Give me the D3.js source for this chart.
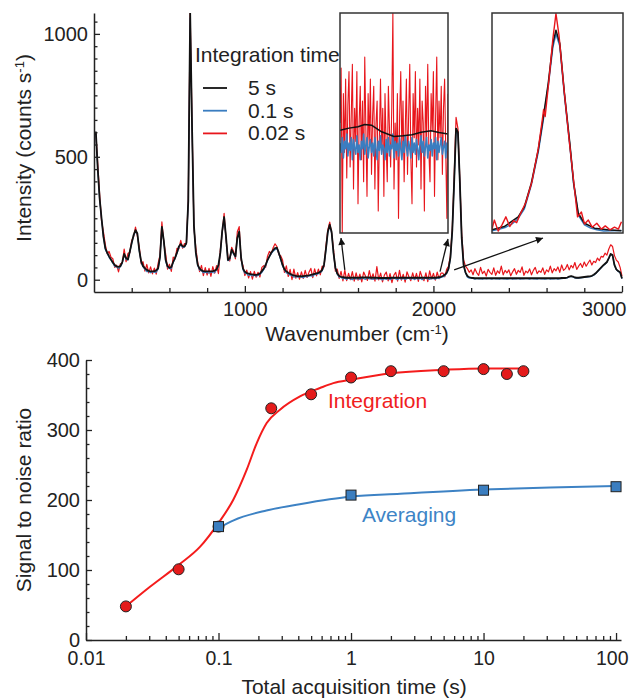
<!DOCTYPE html>
<html>
<head>
<meta charset="utf-8">
<script src="https://cdn.jsdelivr.net/npm/d3@7"></script>
<style>
  body { margin: 0; background: #fff; }
  text { font-family: Arial, "Liberation Sans", sans-serif; fill: #222; }
</style>
</head>
<body>
<svg id="fig" width="630" height="698"></svg>
<script>
/*global d3*/

// ---- spectra, sampled every 10 cm-1 from 200 to 3000 ----
var wavenumbers = d3.range(200, 3001, 10);

var spec5s = [
  590, 600, 450, 330, 250, 175, 128, 110, 95, 82,
  70, 60, 54, 52, 55, 72, 105, 88, 82, 115,
  150, 182, 202, 188, 120, 75, 55, 47, 40, 36,
  34, 34, 35, 38, 46, 92, 215, 160, 80, 55,
  48, 52, 72, 90, 110, 135, 145, 136, 135, 150,
  320, 1085, 620, 220, 110, 60, 45, 38, 35, 34,
  34, 34, 34, 35, 37, 42, 60, 110, 200, 255,
  175, 80, 88, 122, 108, 95, 170, 196, 90, 45,
  32, 27, 25, 23, 22, 20, 20, 22, 25, 35,
  45, 60, 80, 95, 110, 120, 128, 130, 110, 85,
  60, 42, 34, 28, 24, 20, 18, 16, 15, 14,
  14, 15, 16, 17, 18, 20, 22, 24, 26, 28,
  32, 40, 62, 125, 195, 224, 195, 110, 50, 25,
  15, 12, 10, 9, 8, 8, 8, 8, 8, 8,
  8, 8, 9, 9, 9, 9, 9, 8, 8, 8,
  8, 7, 7, 7, 7, 7, 7, 7, 8, 8,
  8, 8, 8, 8, 8, 8, 8, 8, 8, 8,
  8, 8, 8, 8, 8, 8, 8, 8, 8, 8,
  8, 8, 9, 10, 12, 15, 20, 28, 45, 90,
  200, 400, 615, 600, 400, 170, 60, 30, 15, 10,
  8, 7, 6, 6, 6, 6, 6, 6, 6, 6,
  6, 6, 6, 6, 6, 6, 6, 6, 6, 6,
  6, 6, 6, 6, 6, 6, 6, 6, 6, 6,
  6, 6, 6, 6, 6, 6, 6, 6, 6, 6,
  6, 6, 6, 6, 6, 6, 6, 6, 7, 7,
  7, 9, 13, 15, 13, 9, 8, 8, 9, 10,
  11, 12, 13, 14, 16, 20, 26, 34, 42, 50,
  58, 65, 72, 88, 105, 100, 60, 42, 35, 30,
  5
];

var spec01s = [
  585, 592, 447, 324, 246, 173, 122, 107, 90, 80,
  66, 54, 52, 45, 52, 67, 101, 82, 80, 112,
  147, 177, 196, 186, 116, 69, 52, 42, 33, 34,
  28, 32, 30, 30, 43, 88, 210, 157, 74, 51,
  45, 45, 70, 85, 106, 129, 142, 131, 133, 146,
  310, 1065, 610, 215, 106, 57, 39, 36, 28, 30,
  29, 26, 31, 29, 28, 40, 55, 106, 194, 250,
  171, 77, 82, 120, 103, 92, 166, 190, 87, 40,
  26, 24, 17, 19, 15, 18, 14, 17, 22, 29,
  41, 54, 77, 93, 105, 116, 122, 127, 105, 81,
  55, 39, 27, 24, 18, 17, 10, 12, 10, 12,
  10, 8, 13, 11, 16, 15, 14, 21, 21, 24,
  29, 35, 58, 119, 190, 220, 189, 107, 45, 21,
  10, 10, 4, 6, 1, 7, 3, 0, 6, 2,
  5, 1, 7, 4, 1, 8, 3, 4, 1, 5,
  2, 5, 2, -1, 4, 1, 6, 0, 4, 6,
  3, 0, 6, 2, 5, 1, 4, 7, 2, 5,
  1, 5, 2, 6, 0, 4, 7, 3, 1, 5,
  4, 2, 7, 5, 9, 11, 15, 25, 41, 84,
  194, 392, 600, 592, 394, 165, 56, 27, 10, 6,
  5, 5, 2, 5, 3, 4, 2, 5, 3, 4,
  4, 2, 5, 3, 4, 2, 5, 3, 4, 2,
  3, 5, 2, 4, 3, 5, 2, 4, 3, 5,
  4, 2, 5, 3, 4, 2, 5, 3, 4, 2,
  3, 5, 2, 4, 3, 5, 2, 4, 4, 5,
  5, 7, 11, 13, 11, 7, 6, 6, 7, 8,
  9, 10, 11, 12, 14, 18, 24, 32, 40, 48,
  56, 63, 70, 86, 102, 97, 58, 40, 33, 28,
  4
];

var spec002s = [
  600, 595, 470, 345, 240, 195, 143, 105, 115, 92,
  85, 50, 59, 32, 65, 67, 125, 73, 107, 110,
  160, 174, 214, 178, 135, 65, 73, 35, 62, 28,
  52, 24, 47, 23, 66, 100, 235, 155, 105, 43,
  63, 34, 92, 85, 128, 125, 160, 128, 147, 145,
  330, 1085, 635, 210, 130, 70, 33, 58, 17, 49,
  19, 46, 14, 53, 27, 57, 25, 122, 190, 270,
  165, 95, 76, 132, 116, 85, 195, 216, 80, 57,
  17, 39, 7, 33, 2, 34, 10, 30, 11, 50,
  57, 50, 95, 115, 105, 130, 146, 135, 102, 97,
  80, 30, 56, 13, 42, 0, 43, 6, 29, 2,
  32, 5, 38, 9, 30, 46, 8, 44, 16, 43,
  20, 55, 52, 137, 203, 234, 190, 125, 35, 43,
  5, 34, -5, 39, -4, 26, 0, 33, -6, 28,
  -2, 23, -9, 31, 14, -3, 37, 2, 24, -6,
  53, -1, 27, -9, 19, 31, -5, 25, -12, 18,
  30, -6, 38, -2, 22, -10, 32, 12, -4, 28,
  0, 26, -7, 34, 10, -4, 28, -8, 36, 3,
  26, -2, 31, 4, 27, 27, 12, 42, 55, 98,
  210, 420, 660, 615, 410, 185, 80, 55, 45, 30,
  40, 20, 45, 28, 18, 50, 25, 35, 15, 42,
  30, 22, 48, 18, 36, 26, 55, 20, 38, 28,
  40, 16, 32, 45, 22, 38, 30, 52, 18, 35,
  28, 44, 20, 38, 50, 25, 36, 30, 48, 22,
  40, 32, 55, 28, 45, 36, 52, 30, 60, 38,
  45, 62, 40, 58, 48, 70, 42, 55, 66, 50,
  72, 55, 68, 80, 60, 75, 70, 88, 78, 95,
  92, 108, 100, 125, 142, 135, 98, 80, 72, 50,
  15
];

// ---- inset 1: baseline 1560-2040 cm-1, every 5 cm-1 ----
var inset1Wn = d3.range(1560, 2041, 5);
var inset1Red = [
  10, 25, -20, 18, 2, 22, -5, 15, 24, -2,
  12, 26, -8, 14, 5, 24, -12, 10, 20, 0,
  16, -6, 28, 8, -10, 18, 4, 22, -4, 12,
  20, -8, 10, 16, -14, 6, 22, 2, 14, -10,
  18, 4, -6, 20, 8, -2, 14, 40, -8, 10,
  0, 18, -16, 12, 24, 2, 16, -6, 8, 22,
  -4, 12, 26, 0, -12, 18, 6, 24, -2, 14,
  4, 22, -8, 16, 10, -14, 20, 6, 26, 2,
  -6, 18, 8, 24, -10, 12, 28, 0, 16, 6,
  20, -4, 14, 22, 2, -16, 18
];
var inset1Blue = [
  4.5, 2, 6, 0.5, 5, 3, 7, 1, 4.5, 2.5,
  6, 0, 5.5, 3, 1.5, 6.5, 2, 4, 0, 5,
  3, 7, 1.5, 4, 6, 0.5, 3.5, 5.5, 2, 4.5,
  1, 6, 3, 0, 5, 2.5, 6.5, 1.5, 4, 3,
  0, 5.5, 2, 6, 1, 4, 3, 7, 0.5, 5,
  2.5, 4.5, 1, 6, 3, 0, 5, 2, 6.5, 3.5,
  1, 5, 3, 0.5, 6, 2, 4.5, 1.5, 5.5, 3,
  0, 4, 6.5, 2, 5, 1, 3.5, 6, 0.5, 4,
  2.5, 5.5, 1, 4.5, 3, 6, 0, 5, 2, 4,
  6, 1.5, 3.5, 5, 0.5, 4.5, 2.5
];
var inset1BlackWn = [1560, 1600, 1640, 1670, 1700, 1745, 1800, 1840, 1880, 1920, 1965, 2000, 2040];
var inset1Black = [8.0, 8.6, 9.0, 9.6, 9.4, 7.6, 6.3, 6.5, 6.8, 7.5, 7.9, 7.4, 7.0];

// ---- inset 2: the 2125 cm-1 band ----
var inset2BlackWn = [2040, 2056, 2074, 2082, 2091, 2100, 2106, 2113, 2119, 2123, 2128, 2134, 2141, 2146, 2152, 2160, 2173, 2190, 2208];
var inset2Black = [0, 10, 40, 71, 144, 247, 339, 453, 576, 617, 576, 422, 267, 144, 51, 20, 5, 0, -3];
var inset2BlueWn = [2040, 2050, 2058, 2066, 2074, 2082, 2091, 2100, 2106, 2113, 2119, 2123, 2128, 2134, 2141, 2146, 2152, 2160, 2168, 2176, 2185, 2195, 2208];
var inset2Blue = [-3, 2, 8, 18, 35, 65, 138, 240, 330, 445, 565, 605, 568, 415, 260, 140, 45, 15, 5, 0, -4, -3, -2];
var inset2RedWn = [2040, 2043, 2048, 2053, 2058, 2063, 2068, 2072, 2077, 2084, 2092, 2100, 2105, 2107, 2109, 2114, 2119, 2123, 2127, 2133, 2140, 2146, 2151, 2156, 2160, 2165, 2170, 2176, 2182, 2187, 2193, 2199, 2204, 2208];
var inset2Red = [2, 30, -4, 15, 40, 10, 28, 22, 50, 85, 150, 250, 335, 372, 350, 465, 590, 668, 600, 445, 280, 150, 40, 55, 18, 30, 8, 20, 2, 12, 0, 8, 2, 25];

var legendLabels = ["5 s", "0.1 s", "0.02 s"];
var specColors = ["#111111", "#3a7dc0", "#e8161c"];

// ---- signal to noise vs acquisition time ----
var intTime = [0.02, 0.05, 0.1, 0.25, 0.5, 1, 2, 5, 10, 15, 20];
var intSNR = [48, 101, 162, 331, 351, 375, 384, 384, 387, 380, 384];
var avgTime = [0.1, 1, 10, 100];
var avgSNR = [162, 207, 214, 219];
var intFitTime = [0.02, 0.0304, 0.0498, 0.0724, 0.0998, 0.129, 0.163, 0.194, 0.231, 0.291, 0.412, 0.583, 0.735, 1.01, 2.0, 4.98, 9.98, 21.2];
var intFitSNR = [48, 76, 107, 133, 167, 200, 243, 281, 310, 329, 348, 360, 367, 372, 381, 386, 388, 388];
var avgFitTime = [0.1, 0.13, 0.23, 0.41, 0.69, 1, 2.35, 10, 31.8, 100];
var avgFitSNR = [160, 171, 185, 194, 201, 205, 209, 215, 218, 220];

var timeTicks = [0.01, 0.1, 1, 10, 100];
var timeTickLabels = ["0.01", "0.1", "1", "10", "100"];

var svg = d3.select("#fig");
var axisColor = "#222";

svg.append("defs").append("marker")
  .attr("id", "head")
  .attr("viewBox", "0 0 10 10")
  .attr("refX", 10).attr("refY", 5)
  .attr("markerWidth", 9).attr("markerHeight", 7)
  .attr("markerUnits", "userSpaceOnUse")
  .attr("orient", "auto")
  .append("path").attr("d", "M0,0L10,5L0,10z").attr("fill", "#111");

function clip(id, x0, y0, x1, y1) {
  svg.select("defs").append("clipPath").attr("id", id)
    .append("rect").attr("x", x0).attr("y", y0).attr("width", x1 - x0).attr("height", y1 - y0);
  return "url(#" + id + ")";
}

function styleAxis(g, size) {
  g.select(".domain").attr("stroke", axisColor).attr("stroke-width", 1.5);
  g.selectAll(".tick line").attr("stroke", axisColor).attr("stroke-width", 1.3);
  g.selectAll(".tick text").style("font-size", (size || 20) + "px").attr("fill", "#222");
}

// ================= top panel =================
var pTop = {l: 94, r: 622, t: 13, b: 292};
var x1 = d3.scaleLinear().domain([200, 3000]).range([pTop.l, pTop.r]);
var y1 = d3.scaleLinear().domain([-50, 1085]).range([pTop.b, pTop.t]);

// legend
var leg = svg.append("g");
leg.append("text").attr("x", 195).attr("y", 61.5).style("font-size", "21px").text("Integration time");
legendLabels.forEach(function (lab, i) {
  var yy = 88 + i * 22.7;
  leg.append("line").attr("x1", 203).attr("x2", 227).attr("y1", yy).attr("y2", yy)
    .attr("stroke", specColors[i]).attr("stroke-width", 1.8);
  leg.append("text").attr("x", 248).attr("y", yy + 7).style("font-size", "21px").text(lab);
});

var specLine = d3.line()
  .x(function (d, i) { return x1(wavenumbers[i]); })
  .y(function (d) { return y1(d); });

var mainG = svg.append("g").attr("clip-path", clip("cMain", pTop.l, pTop.t, pTop.r + 2, pTop.b));
[[spec002s, 2, 1.2], [spec01s, 1, 1.1], [spec5s, 0, 1.8]].forEach(function (s) {
  mainG.append("path").attr("d", specLine(s[0])).attr("fill", "none")
    .attr("stroke", specColors[s[1]]).attr("stroke-width", s[2]).attr("stroke-linejoin", "round");
});

// axes
var gx1 = svg.append("g").attr("transform", "translate(0," + pTop.b + ")")
  .call(d3.axisBottom(x1).tickValues([1000, 2000, 3000]).tickFormat(d3.format("d"))
    .tickSizeInner(-6).tickSizeOuter(0).tickPadding(10));
styleAxis(gx1);
// last label sits flush with the right edge, as in the original figure
gx1.selectAll(".tick text").filter(function (d) { return d === 3000; })
  .attr("text-anchor", "end").attr("dx", 4);
svg.append("g").attr("transform", "translate(0," + pTop.b + ")")
  .call(d3.axisBottom(x1).tickValues(d3.range(400, 3000, 200).filter(function (v) { return v % 1000 !== 0; }))
    .tickFormat("").tickSizeInner(-4).tickSizeOuter(0))
  .call(function (g) { g.select(".domain").remove(); styleAxis(g); });

var gy1 = svg.append("g").attr("transform", "translate(" + pTop.l + ",0)")
  .call(d3.axisLeft(y1).tickValues([0, 500, 1000]).tickFormat(d3.format("d"))
    .tickSizeInner(-6).tickSizeOuter(0).tickPadding(6));
styleAxis(gy1);
svg.append("g").attr("transform", "translate(" + pTop.l + ",0)")
  .call(d3.axisLeft(y1).tickValues(d3.range(50, 1051, 50).filter(function (v) { return v % 500 !== 0; }))
    .tickFormat("").tickSizeInner(-3.5).tickSizeOuter(0))
  .call(function (g) { g.select(".domain").remove(); styleAxis(g); });

var yl1 = svg.append("text").attr("transform", "translate(31,148) rotate(-90)")
  .attr("text-anchor", "middle").style("font-size", "21px");
yl1.append("tspan").text("Intensity (counts s");
yl1.append("tspan").attr("baseline-shift", "super").style("font-size", "13px").text("-1");
yl1.append("tspan").text(")");

var xl1 = svg.append("text").attr("x", 357).attr("y", 341)
  .attr("text-anchor", "middle").style("font-size", "21px");
xl1.append("tspan").text("Wavenumber (cm");
xl1.append("tspan").attr("baseline-shift", "super").style("font-size", "13px").text("-1");
xl1.append("tspan").text(")");

// insets
function inset(id, box, xd, yd, series) {
  var sx = d3.scaleLinear().domain(xd).range([box.x0, box.x1]);
  var sy = d3.scaleLinear().domain(yd).range([box.y1, box.y0]);
  svg.append("rect").attr("x", box.x0).attr("y", box.y0)
    .attr("width", box.x1 - box.x0).attr("height", box.y1 - box.y0).attr("fill", "#fff");
  var g = svg.append("g").attr("clip-path", clip(id, box.x0, box.y0, box.x1, box.y1));
  series.forEach(function (s) {
    var ln = d3.line().x(function (d, i) { return sx(s.wn[i]); }).y(function (d) { return sy(d); });
    g.append("path").attr("d", ln(s.v)).attr("fill", "none")
      .attr("stroke", s.c).attr("stroke-width", s.w).attr("stroke-linejoin", "round");
  });
  svg.append("rect").attr("x", box.x0).attr("y", box.y0)
    .attr("width", box.x1 - box.x0).attr("height", box.y1 - box.y0)
    .attr("fill", "none").attr("stroke", "#333").attr("stroke-width", 1.5);
}

var box1 = {x0: 340, x1: 448, y0: 13, y1: 233};
var box2 = {x0: 492, x1: 623, y0: 13, y1: 233};
inset("cIn1", box1, [1560, 2040], [-20, 40], [
  {wn: inset1Wn, v: inset1Red, c: specColors[2], w: 1.1},
  {wn: inset1Wn, v: inset1Blue, c: specColors[1], w: 1.6},
  {wn: inset1BlackWn, v: inset1Black, c: specColors[0], w: 1.5}
]);
inset("cIn2", box2, [2040, 2210], [-10, 670], [
  {wn: inset2BlueWn, v: inset2Blue, c: specColors[1], w: 1.5},
  {wn: inset2BlackWn, v: inset2Black, c: specColors[0], w: 1.5},
  {wn: inset2RedWn, v: inset2Red, c: specColors[2], w: 1.4}
]);

// arrows from the spectrum to the insets
var arrowTails = [[1530, 40], [2035, 33], [2110, 40]];
var arrowHeads = [[box1.x0 + 1, box1.y1 + 5], [box1.x1, box1.y1 + 6], [box2.x0 + 51, box2.y1 + 5]];
arrowTails.forEach(function (t, i) {
  svg.append("line")
    .attr("x1", x1(t[0])).attr("y1", y1(t[1]))
    .attr("x2", arrowHeads[i][0]).attr("y2", arrowHeads[i][1])
    .attr("stroke", "#111").attr("stroke-width", 1.3).attr("marker-end", "url(#head)");
});

// ================= bottom panel =================
var pBot = {l: 86, r: 621, t: 360, b: 640};
var x2 = d3.scaleLog().domain([0.01, 109]).range([pBot.l, pBot.r]);
var y2 = d3.scaleLinear().domain([0, 400]).range([pBot.b, pBot.t]);

var minorTimes = [];
[0.01, 0.1, 1, 10].forEach(function (d) {
  d3.range(2, 10).forEach(function (k) { minorTimes.push(d * k); });
});

var gx2 = svg.append("g").attr("transform", "translate(0," + pBot.b + ")")
  .call(d3.axisBottom(x2).tickValues(timeTicks)
    .tickFormat(function (d, i) { return timeTickLabels[i]; })
    .tickSizeInner(-7).tickSizeOuter(0).tickPadding(11));
styleAxis(gx2, 19.5);
gx2.selectAll(".tick text").filter(function (d) { return d === 100; })
  .attr("text-anchor", "end").attr("dx", 12);
svg.append("g").attr("transform", "translate(0," + pBot.b + ")")
  .call(d3.axisBottom(x2).tickValues(minorTimes).tickFormat("").tickSizeInner(-4).tickSizeOuter(0))
  .call(function (g) { g.select(".domain").remove(); styleAxis(g); });

var gy2 = svg.append("g").attr("transform", "translate(" + pBot.l + ",0)")
  .call(d3.axisLeft(y2).tickValues([0, 100, 200, 300, 400]).tickFormat(d3.format("d"))
    .tickSizeInner(-6).tickSizeOuter(0).tickPadding(6));
styleAxis(gy2);
svg.append("g").attr("transform", "translate(" + pBot.l + ",0)")
  .call(d3.axisLeft(y2).tickValues(d3.range(20, 400, 20).filter(function (v) { return v % 100 !== 0; }))
    .tickFormat("").tickSizeInner(-3.5).tickSizeOuter(0))
  .call(function (g) { g.select(".domain").remove(); styleAxis(g); });

svg.append("text").attr("transform", "translate(31,500) rotate(-90)")
  .attr("text-anchor", "middle").style("font-size", "21px").text("Signal to noise ratio");
svg.append("text").attr("x", 354).attr("y", 694)
  .attr("text-anchor", "middle").style("font-size", "21px").text("Total acquisition time (s)");

var fitLine = d3.line().curve(d3.curveMonotoneX);
svg.append("path")
  .attr("d", fitLine(avgFitTime.map(function (t, i) { return [x2(t), y2(avgFitSNR[i])]; })))
  .attr("fill", "none").attr("stroke", "#3d82c4").attr("stroke-width", 2);
svg.append("path")
  .attr("d", fitLine(intFitTime.map(function (t, i) { return [x2(t), y2(intFitSNR[i])]; })))
  .attr("fill", "none").attr("stroke", "#f41c1c").attr("stroke-width", 2);

svg.append("g").selectAll("circle").data(intTime).enter().append("circle")
  .attr("cx", function (d) { return x2(d); })
  .attr("cy", function (d, i) { return y2(intSNR[i]); })
  .attr("r", 5.5).attr("fill", "#e41b1b").attr("stroke", "#222").attr("stroke-width", 1);

svg.append("g").selectAll("rect").data(avgTime).enter().append("rect")
  .attr("x", function (d) { return x2(d) - 5; })
  .attr("y", function (d, i) { return y2(avgSNR[i]) - 5; })
  .attr("width", 10).attr("height", 10)
  .attr("fill", "#3b7ec0").attr("stroke", "#222").attr("stroke-width", 1);

svg.append("text").attr("x", x2(0.67)).attr("y", y2(331))
  .style("font-size", "21px").style("fill", "#f02020").text("Integration");
svg.append("text").attr("x", x2(1.21)).attr("y", y2(169))
  .style("font-size", "21px").style("fill", "#3d84c6").text("Averaging");
</script>
</body>
</html>
